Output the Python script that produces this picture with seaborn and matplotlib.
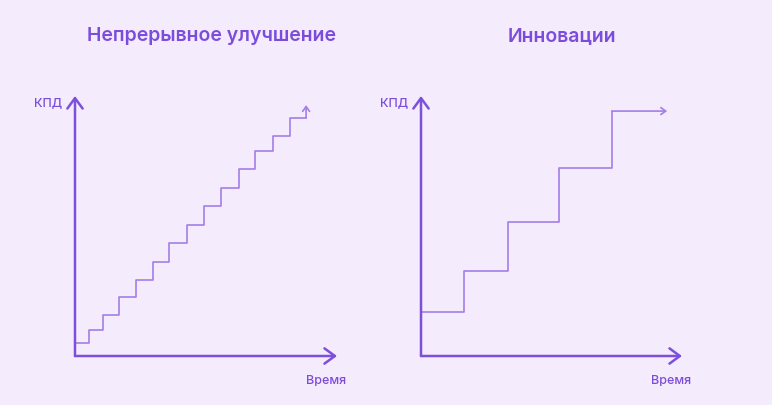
import matplotlib
matplotlib.use("Agg")
import matplotlib.pyplot as plt
import seaborn as sns
import pandas as pd

# Непрерывное улучшение: время (% длины оси) и КПД (% высоты оси)
left_time = [0, 5.3, 10.7, 16.8, 23.3, 29.8, 35.9, 42.7, 49.2, 55.7, 62.6, 68.7, 75.6, 82.1, 88.2]
left_kpd = [5.0, 10.0, 15.8, 22.7, 29.2, 36.2, 43.5, 50.4, 57.7, 64.6, 71.9, 78.8, 84.6, 91.5, 91.5]
left_tip = 96.5

# Инновации
right_time = [0, 16.5, 33.3, 52.9, 73.2, 94.3]
right_kpd = [16.9, 32.7, 51.5, 72.3, 94.2, 94.2]

titles = ["Непрерывное улучшение", "Инновации"]
y_label = "КПД"
x_label = "Время"

BG = "#f4ebfd"
AXIS = "#7d50dc"
STEP = "#a47ee8"
TEXT = "#7c4ddb"

sns.set_style("white")
plt.rcParams["font.family"] = ["Inter", "DejaVu Sans"]

fig = plt.figure(figsize=(7.72, 4.06), dpi=100, facecolor=BG)
W, H = 772, 406
ax_l = fig.add_axes([75 / W, 49 / H, 262 / W, 260 / H])
ax_r = fig.add_axes([421 / W, 49 / H, 261 / W, 260 / H])

df_l = pd.DataFrame({"t": left_time, "k": left_kpd})
df_r = pd.DataFrame({"t": right_time, "k": right_kpd})

sns.lineplot(data=df_l, x="t", y="k", ax=ax_l, drawstyle="steps-post",
             estimator=None, sort=False, color=STEP, linewidth=1.2)
sns.lineplot(data=df_r.iloc[:-1], x="t", y="k", ax=ax_r, drawstyle="steps-post",
             estimator=None, sort=False, color=STEP, linewidth=1.2)

# последние отрезки со стрелками
small = dict(arrowstyle="->,head_length=0.35,head_width=0.25", color=STEP,
             lw=1.2, shrinkA=0, shrinkB=0)
ax_l.annotate("", xy=(left_time[-1], left_tip), xytext=(left_time[-1], left_kpd[-1]),
              arrowprops=small, annotation_clip=False)
ax_r.annotate("", xy=(right_time[-1], right_kpd[-1]), xytext=(right_time[-2], right_kpd[-2]),
              arrowprops=small, annotation_clip=False)

for ax, title, cx in [(ax_l, titles[0], 211), (ax_r, titles[1], 562)]:
    ax.set_xlim(0, 100)
    ax.set_ylim(0, 100)
    ax.set_facecolor("none")
    for s in ax.spines.values():
        s.set_visible(False)
    ax.set_xticks([])
    ax.set_yticks([])
    ax.set_xlabel("")
    ax.set_ylabel("")
    arrow = dict(arrowstyle="->,head_length=0.75,head_width=0.55", color=AXIS, lw=1.8,
                 shrinkA=0, shrinkB=0)
    ax.annotate("", xy=(100, 0), xytext=(0, 0), arrowprops=arrow, annotation_clip=False)
    ax.annotate("", xy=(0, 100), xytext=(0, 0), arrowprops=arrow, annotation_clip=False)
    ax.text(-5, 97.7, y_label, ha="right", va="center", fontsize=9, color=TEXT,
            fontweight="medium")
    ax.text(96, -9.2, x_label, ha="center", va="center", fontsize=9, color=TEXT,
            fontweight="medium")
    fig.text(cx / W, 1 - 36 / H, title, ha="center", va="center", fontsize=14,
             color=TEXT, fontweight="semibold")

fig.savefig("out.png", dpi=100, facecolor=BG)
